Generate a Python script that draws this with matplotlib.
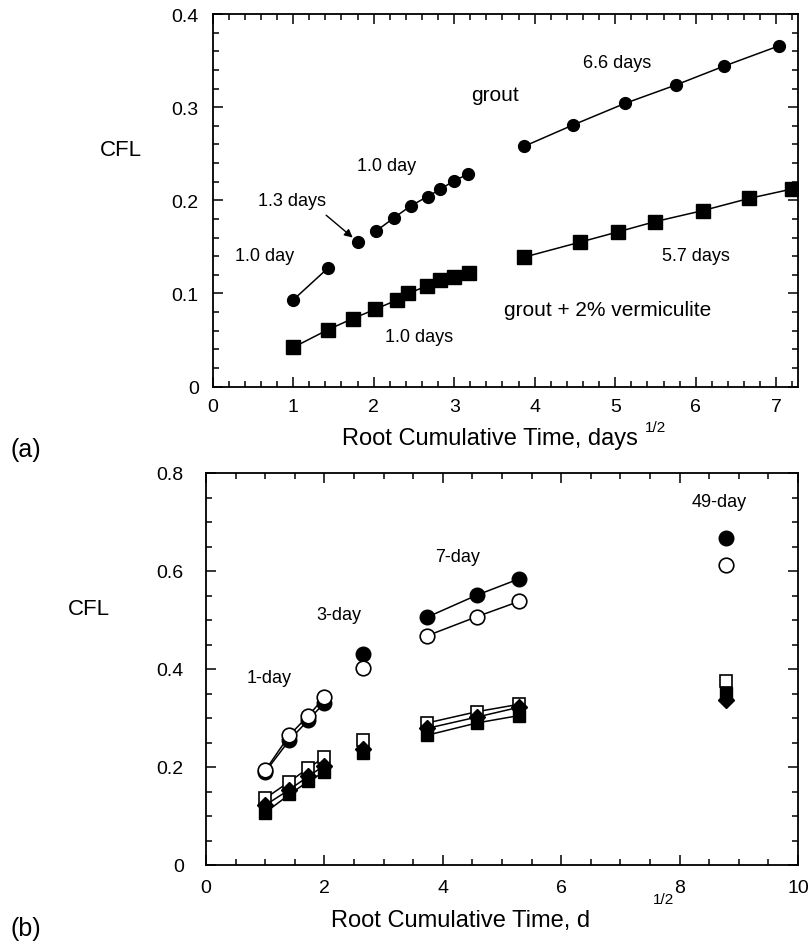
import numpy as np
import matplotlib
matplotlib.use("Agg")
import matplotlib.pyplot as plt
from matplotlib.ticker import MultipleLocator, FuncFormatter

plt.rcParams['font.family'] = ['Liberation Sans', 'DejaVu Sans']

# ---- panel (a) data: grout vs grout + 2% vermiculite ----
grout_x = [1.00, 1.43, 1.80, 2.03, 2.25, 2.46, 2.67, 2.83, 3.00, 3.17,
           3.87, 4.48, 5.12, 5.76, 6.35, 7.04]
grout_y = [0.093, 0.127, 0.155, 0.167, 0.181, 0.194, 0.204, 0.212, 0.221, 0.228,
           0.258, 0.281, 0.304, 0.324, 0.344, 0.366]
grout_segments = [(0, 2), (2, 3), (3, 10), (10, 16)]

verm_x = [1.00, 1.43, 1.74, 2.02, 2.29, 2.43, 2.66, 2.83, 3.00, 3.18,
          3.87, 4.56, 5.03, 5.49, 6.09, 6.66, 7.19]
verm_y = [0.042, 0.061, 0.073, 0.083, 0.093, 0.100, 0.108, 0.114, 0.118, 0.122,
          0.139, 0.155, 0.166, 0.177, 0.189, 0.202, 0.212]
verm_segments = [(0, 10), (10, 17)]

# ---- panel (b) data ----
tb = [1.00, 1.41, 1.73, 2.00, 2.65, 3.74, 4.58, 5.29, 8.78]
b_segments = [(0, 4), (4, 5), (5, 8), (8, 9)]
filled_circle = [0.190, 0.255, 0.296, 0.331, 0.431, 0.506, 0.551, 0.584, 0.667]
open_circle = [0.193, 0.265, 0.305, 0.342, 0.402, 0.468, 0.507, 0.538, 0.613]
open_square = [0.136, 0.170, 0.198, 0.220, 0.255, 0.290, 0.313, 0.328, 0.375]
filled_square = [0.107, 0.144, 0.171, 0.190, 0.228, 0.265, 0.290, 0.305, 0.352]
filled_diamond = [0.122, 0.154, 0.181, 0.203, 0.236, 0.279, 0.302, 0.322, 0.336]

W, H = 808, 945
fig = plt.figure(figsize=(W / 100, H / 100), dpi=100)


def px_box(left, top, right, bottom):
    return [left / W, 1 - bottom / H, (right - left) / W, (bottom - top) / H]


def fmt(v, pos):
    return "0" if abs(v) < 1e-9 else ("%g" % v)


def style_axes(ax, xmaj, xmin, ymaj, ymin, ypad, xpad):
    ax.xaxis.set_major_locator(MultipleLocator(xmaj))
    ax.xaxis.set_minor_locator(MultipleLocator(xmin))
    ax.yaxis.set_major_locator(MultipleLocator(ymaj))
    ax.yaxis.set_minor_locator(MultipleLocator(ymin))
    ax.xaxis.set_major_formatter(FuncFormatter(fmt))
    ax.yaxis.set_major_formatter(FuncFormatter(fmt))
    ax.tick_params(which='both', direction='in', top=True, right=True, width=1.1)
    ax.tick_params(which='major', length=7, labelsize=14)
    ax.tick_params(which='minor', length=4)
    ax.tick_params(axis='y', which='major', pad=ypad)
    ax.tick_params(axis='x', which='major', pad=xpad)
    for s in ax.spines.values():
        s.set_linewidth(1.3)


def plot_segments(ax, x, y, segs, **kw):
    x = np.asarray(x)
    y = np.asarray(y)
    for a, b in segs:
        ax.plot(x[a:b], y[a:b], color='k', lw=1.1, **kw)


# ---------------- (a) ----------------
ax1 = fig.add_axes(px_box(212.6, 15, 798, 387.6))
plot_segments(ax1, grout_x, grout_y, grout_segments, marker='o', ms=8.5,
              mfc='k', mec='k')
plot_segments(ax1, verm_x, verm_y, verm_segments, marker='s', ms=10.5,
              mfc='k', mec='k')
ax1.set_xlim(0, 7.27)
ax1.set_ylim(0, 0.4)
style_axes(ax1, 1, 0.2, 0.1, 0.02, 10, 8)

small = 13
ax1.text(5.02, 0.348, "6.6 days", fontsize=small, ha='center', va='center')
ax1.text(3.51, 0.314, "grout", fontsize=15, ha='center', va='center')
ax1.text(2.16, 0.237, "1.0 day", fontsize=small, ha='center', va='center')
ax1.text(0.98, 0.200, "1.3 days", fontsize=small, ha='center', va='center')
ax1.text(0.64, 0.141, "1.0 day", fontsize=small, ha='center', va='center')
ax1.text(6.00, 0.141, "5.7 days", fontsize=small, ha='center', va='center')
ax1.text(4.90, 0.083, "grout + 2% vermiculite", fontsize=15, ha='center', va='center')
ax1.text(2.57, 0.054, "1.0 days", fontsize=small, ha='center', va='center')
ax1.annotate("", xy=(1.74, 0.160), xytext=(1.41, 0.184),
             arrowprops=dict(arrowstyle='-|>', color='k', lw=1.0, mutation_scale=12,
                             shrinkA=0, shrinkB=0))

fig.text(121 / W, 1 - 151 / H, "CFL", fontsize=16, ha='center', va='center')
fig.text(490 / W, 1 - 439 / H, "Root Cumulative Time, days", fontsize=17,
         ha='center', va='center')
fig.text(656 / W, 1 - 428 / H, "1/2", fontsize=11, ha='center', va='center')
fig.text(26 / W, 1 - 450 / H, "(a)", fontsize=18, ha='center', va='center')

# ---------------- (b) ----------------
ax2 = fig.add_axes(px_box(206, 474, 798, 866))
plot_segments(ax2, tb, filled_circle, b_segments, marker='o', ms=10.5,
              mfc='k', mec='k')
plot_segments(ax2, tb, open_circle, b_segments, marker='o', ms=10.5,
              mfc='white', mec='k', mew=1.2)
plot_segments(ax2, tb, open_square, b_segments, marker='s', ms=9,
              mfc='white', mec='k', mew=1.2)
plot_segments(ax2, tb, filled_square, b_segments, marker='s', ms=9,
              mfc='k', mec='k')
plot_segments(ax2, tb, filled_diamond, b_segments, marker='D', ms=8,
              mfc='k', mec='k')
ax2.set_xlim(0, 10)
ax2.set_ylim(0, 0.8)
style_axes(ax2, 2, 0.5, 0.2, 0.05, 16, 10)

ax2.text(8.67, 0.742, "49-day", fontsize=small, ha='center', va='center')
ax2.text(4.25, 0.630, "7-day", fontsize=small, ha='center', va='center')
ax2.text(2.24, 0.511, "3-day", fontsize=small, ha='center', va='center')
ax2.text(1.06, 0.382, "1-day", fontsize=small, ha='center', va='center')

fig.text(89 / W, 1 - 610 / H, "CFL", fontsize=16, ha='center', va='center')
fig.text(461 / W, 1 - 921 / H, "Root Cumulative Time, d", fontsize=17,
         ha='center', va='center')
fig.text(663 / W, 1 - 900 / H, "1/2", fontsize=11, ha='center', va='center')
fig.text(26 / W, 1 - 929 / H, "(b)", fontsize=18, ha='center', va='center')

fig.savefig("out.png", dpi=100)
